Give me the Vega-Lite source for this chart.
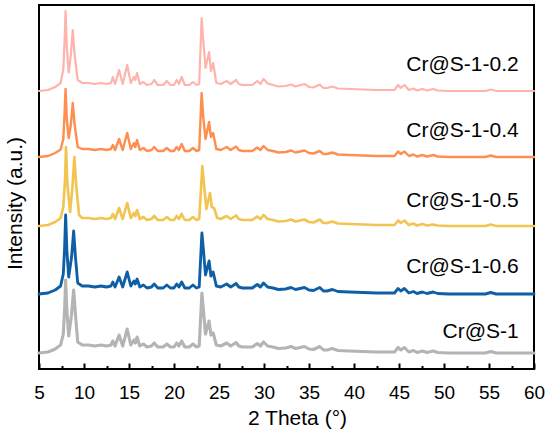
{
  "$schema": "https://vega.github.io/schema/vega-lite/v6.json",
  "width": 495,
  "height": 364,
  "autosize": "none",
  "padding": {"left": 39, "top": 5, "right": 16, "bottom": 64},
  "config": {
    "font": "Liberation Sans",
    "view": {"stroke": "#000", "strokeWidth": 2}
  },
  "datasets": {
    "xrd": [
      {"sample": "Cr@S-1", "theta": 5, "intensity": 16},
      {"sample": "Cr@S-1", "theta": 6, "intensity": 17},
      {"sample": "Cr@S-1", "theta": 6.8, "intensity": 20},
      {"sample": "Cr@S-1", "theta": 7.4, "intensity": 24},
      {"sample": "Cr@S-1", "theta": 7.7, "intensity": 35},
      {"sample": "Cr@S-1", "theta": 7.85, "intensity": 60},
      {"sample": "Cr@S-1", "theta": 7.96, "intensity": 89},
      {"sample": "Cr@S-1", "theta": 8.1, "intensity": 58},
      {"sample": "Cr@S-1", "theta": 8.3, "intensity": 33},
      {"sample": "Cr@S-1", "theta": 8.62, "intensity": 55},
      {"sample": "Cr@S-1", "theta": 8.85, "intensity": 79},
      {"sample": "Cr@S-1", "theta": 9.05, "intensity": 55},
      {"sample": "Cr@S-1", "theta": 9.3, "intensity": 27},
      {"sample": "Cr@S-1", "theta": 9.8, "intensity": 24},
      {"sample": "Cr@S-1", "theta": 10.5, "intensity": 24},
      {"sample": "Cr@S-1", "theta": 11.2, "intensity": 23},
      {"sample": "Cr@S-1", "theta": 11.9, "intensity": 24},
      {"sample": "Cr@S-1", "theta": 12.5, "intensity": 23},
      {"sample": "Cr@S-1", "theta": 13.0, "intensity": 24},
      {"sample": "Cr@S-1", "theta": 13.2, "intensity": 28},
      {"sample": "Cr@S-1", "theta": 13.45, "intensity": 23},
      {"sample": "Cr@S-1", "theta": 13.9, "intensity": 34},
      {"sample": "Cr@S-1", "theta": 14.3, "intensity": 23},
      {"sample": "Cr@S-1", "theta": 14.8, "intensity": 40},
      {"sample": "Cr@S-1", "theta": 15.2, "intensity": 24},
      {"sample": "Cr@S-1", "theta": 15.55, "intensity": 29},
      {"sample": "Cr@S-1", "theta": 15.7, "intensity": 26},
      {"sample": "Cr@S-1", "theta": 15.9, "intensity": 32},
      {"sample": "Cr@S-1", "theta": 16.2, "intensity": 23},
      {"sample": "Cr@S-1", "theta": 16.6, "intensity": 25},
      {"sample": "Cr@S-1", "theta": 17.0, "intensity": 22},
      {"sample": "Cr@S-1", "theta": 17.5, "intensity": 23},
      {"sample": "Cr@S-1", "theta": 17.8, "intensity": 26},
      {"sample": "Cr@S-1", "theta": 18.2, "intensity": 22},
      {"sample": "Cr@S-1", "theta": 18.8, "intensity": 22},
      {"sample": "Cr@S-1", "theta": 19.2, "intensity": 25},
      {"sample": "Cr@S-1", "theta": 19.6, "intensity": 22},
      {"sample": "Cr@S-1", "theta": 20.0, "intensity": 22},
      {"sample": "Cr@S-1", "theta": 20.3, "intensity": 26},
      {"sample": "Cr@S-1", "theta": 20.55, "intensity": 23},
      {"sample": "Cr@S-1", "theta": 20.85, "intensity": 28},
      {"sample": "Cr@S-1", "theta": 21.2, "intensity": 22},
      {"sample": "Cr@S-1", "theta": 21.7, "intensity": 22},
      {"sample": "Cr@S-1", "theta": 22.1, "intensity": 25},
      {"sample": "Cr@S-1", "theta": 22.5, "intensity": 22},
      {"sample": "Cr@S-1", "theta": 22.8, "intensity": 23},
      {"sample": "Cr@S-1", "theta": 23.1, "intensity": 76},
      {"sample": "Cr@S-1", "theta": 23.28, "intensity": 58},
      {"sample": "Cr@S-1", "theta": 23.5, "intensity": 35},
      {"sample": "Cr@S-1", "theta": 23.9, "intensity": 48},
      {"sample": "Cr@S-1", "theta": 24.1, "intensity": 34},
      {"sample": "Cr@S-1", "theta": 24.35, "intensity": 36},
      {"sample": "Cr@S-1", "theta": 24.7, "intensity": 24},
      {"sample": "Cr@S-1", "theta": 25.2, "intensity": 23},
      {"sample": "Cr@S-1", "theta": 25.85, "intensity": 26},
      {"sample": "Cr@S-1", "theta": 26.3, "intensity": 23},
      {"sample": "Cr@S-1", "theta": 26.9, "intensity": 26.5},
      {"sample": "Cr@S-1", "theta": 27.2, "intensity": 23},
      {"sample": "Cr@S-1", "theta": 27.6, "intensity": 22},
      {"sample": "Cr@S-1", "theta": 28.2, "intensity": 22},
      {"sample": "Cr@S-1", "theta": 28.7, "intensity": 22},
      {"sample": "Cr@S-1", "theta": 29.25, "intensity": 25.5},
      {"sample": "Cr@S-1", "theta": 29.6, "intensity": 23},
      {"sample": "Cr@S-1", "theta": 29.95, "intensity": 27},
      {"sample": "Cr@S-1", "theta": 30.4, "intensity": 23},
      {"sample": "Cr@S-1", "theta": 31.0, "intensity": 22},
      {"sample": "Cr@S-1", "theta": 31.6, "intensity": 20.5},
      {"sample": "Cr@S-1", "theta": 32.4, "intensity": 21},
      {"sample": "Cr@S-1", "theta": 33.0, "intensity": 22.5},
      {"sample": "Cr@S-1", "theta": 33.5, "intensity": 20.5},
      {"sample": "Cr@S-1", "theta": 34.5, "intensity": 22.5},
      {"sample": "Cr@S-1", "theta": 35.0, "intensity": 20},
      {"sample": "Cr@S-1", "theta": 35.5, "intensity": 19.5},
      {"sample": "Cr@S-1", "theta": 36.2, "intensity": 22.5},
      {"sample": "Cr@S-1", "theta": 36.6, "intensity": 19},
      {"sample": "Cr@S-1", "theta": 37.0, "intensity": 19},
      {"sample": "Cr@S-1", "theta": 37.6, "intensity": 20.5},
      {"sample": "Cr@S-1", "theta": 38.2, "intensity": 18.5},
      {"sample": "Cr@S-1", "theta": 39.5, "intensity": 18},
      {"sample": "Cr@S-1", "theta": 41, "intensity": 17.5},
      {"sample": "Cr@S-1", "theta": 42.5, "intensity": 17},
      {"sample": "Cr@S-1", "theta": 43.5, "intensity": 17},
      {"sample": "Cr@S-1", "theta": 44.5, "intensity": 17},
      {"sample": "Cr@S-1", "theta": 44.9, "intensity": 21.5},
      {"sample": "Cr@S-1", "theta": 45.2, "intensity": 19},
      {"sample": "Cr@S-1", "theta": 45.6, "intensity": 21.5},
      {"sample": "Cr@S-1", "theta": 46.1, "intensity": 17},
      {"sample": "Cr@S-1", "theta": 46.6, "intensity": 18.5},
      {"sample": "Cr@S-1", "theta": 47.0, "intensity": 16.5},
      {"sample": "Cr@S-1", "theta": 47.6, "intensity": 18},
      {"sample": "Cr@S-1", "theta": 48.1, "intensity": 16.5},
      {"sample": "Cr@S-1", "theta": 48.8, "intensity": 18},
      {"sample": "Cr@S-1", "theta": 49.3, "intensity": 16.5},
      {"sample": "Cr@S-1", "theta": 50.5, "intensity": 16},
      {"sample": "Cr@S-1", "theta": 52, "intensity": 16},
      {"sample": "Cr@S-1", "theta": 53.5, "intensity": 16},
      {"sample": "Cr@S-1", "theta": 54.6, "intensity": 16},
      {"sample": "Cr@S-1", "theta": 55.2, "intensity": 17.5},
      {"sample": "Cr@S-1", "theta": 55.8, "intensity": 16},
      {"sample": "Cr@S-1", "theta": 57, "intensity": 16},
      {"sample": "Cr@S-1", "theta": 58.5, "intensity": 16},
      {"sample": "Cr@S-1", "theta": 60, "intensity": 16},

      {"sample": "Cr@S-1-0.6", "theta": 5, "intensity": 75},
      {"sample": "Cr@S-1-0.6", "theta": 6, "intensity": 76},
      {"sample": "Cr@S-1-0.6", "theta": 6.8, "intensity": 79},
      {"sample": "Cr@S-1-0.6", "theta": 7.4, "intensity": 83},
      {"sample": "Cr@S-1-0.6", "theta": 7.7, "intensity": 95},
      {"sample": "Cr@S-1-0.6", "theta": 7.85, "intensity": 122},
      {"sample": "Cr@S-1-0.6", "theta": 7.96, "intensity": 154},
      {"sample": "Cr@S-1-0.6", "theta": 8.1, "intensity": 118},
      {"sample": "Cr@S-1-0.6", "theta": 8.3, "intensity": 92},
      {"sample": "Cr@S-1-0.6", "theta": 8.62, "intensity": 112},
      {"sample": "Cr@S-1-0.6", "theta": 8.85, "intensity": 138},
      {"sample": "Cr@S-1-0.6", "theta": 9.05, "intensity": 112},
      {"sample": "Cr@S-1-0.6", "theta": 9.3, "intensity": 86},
      {"sample": "Cr@S-1-0.6", "theta": 9.8, "intensity": 83},
      {"sample": "Cr@S-1-0.6", "theta": 10.5, "intensity": 83},
      {"sample": "Cr@S-1-0.6", "theta": 11.2, "intensity": 82},
      {"sample": "Cr@S-1-0.6", "theta": 11.9, "intensity": 83},
      {"sample": "Cr@S-1-0.6", "theta": 12.5, "intensity": 82},
      {"sample": "Cr@S-1-0.6", "theta": 13.0, "intensity": 83},
      {"sample": "Cr@S-1-0.6", "theta": 13.2, "intensity": 87},
      {"sample": "Cr@S-1-0.6", "theta": 13.45, "intensity": 82},
      {"sample": "Cr@S-1-0.6", "theta": 13.9, "intensity": 92},
      {"sample": "Cr@S-1-0.6", "theta": 14.3, "intensity": 82},
      {"sample": "Cr@S-1-0.6", "theta": 14.8, "intensity": 97},
      {"sample": "Cr@S-1-0.6", "theta": 15.2, "intensity": 83},
      {"sample": "Cr@S-1-0.6", "theta": 15.55, "intensity": 88},
      {"sample": "Cr@S-1-0.6", "theta": 15.7, "intensity": 85},
      {"sample": "Cr@S-1-0.6", "theta": 15.9, "intensity": 90},
      {"sample": "Cr@S-1-0.6", "theta": 16.2, "intensity": 82},
      {"sample": "Cr@S-1-0.6", "theta": 16.6, "intensity": 84},
      {"sample": "Cr@S-1-0.6", "theta": 17.0, "intensity": 81},
      {"sample": "Cr@S-1-0.6", "theta": 17.5, "intensity": 82},
      {"sample": "Cr@S-1-0.6", "theta": 17.8, "intensity": 85},
      {"sample": "Cr@S-1-0.6", "theta": 18.2, "intensity": 81},
      {"sample": "Cr@S-1-0.6", "theta": 18.8, "intensity": 81},
      {"sample": "Cr@S-1-0.6", "theta": 19.2, "intensity": 84},
      {"sample": "Cr@S-1-0.6", "theta": 19.6, "intensity": 81},
      {"sample": "Cr@S-1-0.6", "theta": 20.0, "intensity": 81},
      {"sample": "Cr@S-1-0.6", "theta": 20.3, "intensity": 85},
      {"sample": "Cr@S-1-0.6", "theta": 20.55, "intensity": 82},
      {"sample": "Cr@S-1-0.6", "theta": 20.85, "intensity": 87},
      {"sample": "Cr@S-1-0.6", "theta": 21.2, "intensity": 81},
      {"sample": "Cr@S-1-0.6", "theta": 21.7, "intensity": 81},
      {"sample": "Cr@S-1-0.6", "theta": 22.1, "intensity": 84},
      {"sample": "Cr@S-1-0.6", "theta": 22.5, "intensity": 81},
      {"sample": "Cr@S-1-0.6", "theta": 22.8, "intensity": 82},
      {"sample": "Cr@S-1-0.6", "theta": 23.1, "intensity": 136},
      {"sample": "Cr@S-1-0.6", "theta": 23.28, "intensity": 118},
      {"sample": "Cr@S-1-0.6", "theta": 23.5, "intensity": 94},
      {"sample": "Cr@S-1-0.6", "theta": 23.9, "intensity": 108},
      {"sample": "Cr@S-1-0.6", "theta": 24.1, "intensity": 93},
      {"sample": "Cr@S-1-0.6", "theta": 24.35, "intensity": 97},
      {"sample": "Cr@S-1-0.6", "theta": 24.7, "intensity": 83},
      {"sample": "Cr@S-1-0.6", "theta": 25.2, "intensity": 82},
      {"sample": "Cr@S-1-0.6", "theta": 25.85, "intensity": 85},
      {"sample": "Cr@S-1-0.6", "theta": 26.3, "intensity": 82},
      {"sample": "Cr@S-1-0.6", "theta": 26.9, "intensity": 85.5},
      {"sample": "Cr@S-1-0.6", "theta": 27.2, "intensity": 82},
      {"sample": "Cr@S-1-0.6", "theta": 27.6, "intensity": 81},
      {"sample": "Cr@S-1-0.6", "theta": 28.2, "intensity": 81},
      {"sample": "Cr@S-1-0.6", "theta": 28.7, "intensity": 81},
      {"sample": "Cr@S-1-0.6", "theta": 29.25, "intensity": 84.5},
      {"sample": "Cr@S-1-0.6", "theta": 29.6, "intensity": 82},
      {"sample": "Cr@S-1-0.6", "theta": 29.95, "intensity": 86},
      {"sample": "Cr@S-1-0.6", "theta": 30.4, "intensity": 82},
      {"sample": "Cr@S-1-0.6", "theta": 31.0, "intensity": 81},
      {"sample": "Cr@S-1-0.6", "theta": 31.6, "intensity": 79.5},
      {"sample": "Cr@S-1-0.6", "theta": 32.4, "intensity": 80},
      {"sample": "Cr@S-1-0.6", "theta": 33.0, "intensity": 81.5},
      {"sample": "Cr@S-1-0.6", "theta": 33.5, "intensity": 79.5},
      {"sample": "Cr@S-1-0.6", "theta": 34.5, "intensity": 81.5},
      {"sample": "Cr@S-1-0.6", "theta": 35.0, "intensity": 79},
      {"sample": "Cr@S-1-0.6", "theta": 35.5, "intensity": 78.5},
      {"sample": "Cr@S-1-0.6", "theta": 36.2, "intensity": 81.5},
      {"sample": "Cr@S-1-0.6", "theta": 36.6, "intensity": 78},
      {"sample": "Cr@S-1-0.6", "theta": 37.0, "intensity": 78},
      {"sample": "Cr@S-1-0.6", "theta": 37.6, "intensity": 79.5},
      {"sample": "Cr@S-1-0.6", "theta": 38.2, "intensity": 77.5},
      {"sample": "Cr@S-1-0.6", "theta": 39.5, "intensity": 77},
      {"sample": "Cr@S-1-0.6", "theta": 41, "intensity": 76.5},
      {"sample": "Cr@S-1-0.6", "theta": 42.5, "intensity": 76},
      {"sample": "Cr@S-1-0.6", "theta": 43.5, "intensity": 76},
      {"sample": "Cr@S-1-0.6", "theta": 44.5, "intensity": 76},
      {"sample": "Cr@S-1-0.6", "theta": 44.9, "intensity": 80.5},
      {"sample": "Cr@S-1-0.6", "theta": 45.2, "intensity": 78},
      {"sample": "Cr@S-1-0.6", "theta": 45.6, "intensity": 80.5},
      {"sample": "Cr@S-1-0.6", "theta": 46.1, "intensity": 76},
      {"sample": "Cr@S-1-0.6", "theta": 46.6, "intensity": 77.5},
      {"sample": "Cr@S-1-0.6", "theta": 47.0, "intensity": 75.5},
      {"sample": "Cr@S-1-0.6", "theta": 47.6, "intensity": 77},
      {"sample": "Cr@S-1-0.6", "theta": 48.1, "intensity": 75.5},
      {"sample": "Cr@S-1-0.6", "theta": 48.8, "intensity": 77},
      {"sample": "Cr@S-1-0.6", "theta": 49.3, "intensity": 75.5},
      {"sample": "Cr@S-1-0.6", "theta": 50.5, "intensity": 75},
      {"sample": "Cr@S-1-0.6", "theta": 52, "intensity": 75},
      {"sample": "Cr@S-1-0.6", "theta": 53.5, "intensity": 75},
      {"sample": "Cr@S-1-0.6", "theta": 54.6, "intensity": 75},
      {"sample": "Cr@S-1-0.6", "theta": 55.2, "intensity": 76.5},
      {"sample": "Cr@S-1-0.6", "theta": 55.8, "intensity": 75},
      {"sample": "Cr@S-1-0.6", "theta": 57, "intensity": 75},
      {"sample": "Cr@S-1-0.6", "theta": 58.5, "intensity": 75},
      {"sample": "Cr@S-1-0.6", "theta": 60, "intensity": 75},

      {"sample": "Cr@S-1-0.5", "theta": 5, "intensity": 143},
      {"sample": "Cr@S-1-0.5", "theta": 6, "intensity": 144},
      {"sample": "Cr@S-1-0.5", "theta": 6.8, "intensity": 147},
      {"sample": "Cr@S-1-0.5", "theta": 7.4, "intensity": 151},
      {"sample": "Cr@S-1-0.5", "theta": 7.7, "intensity": 162},
      {"sample": "Cr@S-1-0.5", "theta": 7.9, "intensity": 190},
      {"sample": "Cr@S-1-0.5", "theta": 8.0, "intensity": 222},
      {"sample": "Cr@S-1-0.5", "theta": 8.15, "intensity": 185},
      {"sample": "Cr@S-1-0.5", "theta": 8.45, "intensity": 157},
      {"sample": "Cr@S-1-0.5", "theta": 8.7, "intensity": 180},
      {"sample": "Cr@S-1-0.5", "theta": 8.93, "intensity": 212},
      {"sample": "Cr@S-1-0.5", "theta": 9.12, "intensity": 185},
      {"sample": "Cr@S-1-0.5", "theta": 9.45, "intensity": 154},
      {"sample": "Cr@S-1-0.5", "theta": 9.8, "intensity": 151},
      {"sample": "Cr@S-1-0.5", "theta": 10.5, "intensity": 151},
      {"sample": "Cr@S-1-0.5", "theta": 11.2, "intensity": 150},
      {"sample": "Cr@S-1-0.5", "theta": 11.9, "intensity": 151},
      {"sample": "Cr@S-1-0.5", "theta": 12.5, "intensity": 150},
      {"sample": "Cr@S-1-0.5", "theta": 13.0, "intensity": 151},
      {"sample": "Cr@S-1-0.5", "theta": 13.2, "intensity": 155},
      {"sample": "Cr@S-1-0.5", "theta": 13.45, "intensity": 150},
      {"sample": "Cr@S-1-0.5", "theta": 13.9, "intensity": 161},
      {"sample": "Cr@S-1-0.5", "theta": 14.3, "intensity": 150},
      {"sample": "Cr@S-1-0.5", "theta": 14.8, "intensity": 166},
      {"sample": "Cr@S-1-0.5", "theta": 15.2, "intensity": 151},
      {"sample": "Cr@S-1-0.5", "theta": 15.55, "intensity": 156},
      {"sample": "Cr@S-1-0.5", "theta": 15.7, "intensity": 153},
      {"sample": "Cr@S-1-0.5", "theta": 15.9, "intensity": 159},
      {"sample": "Cr@S-1-0.5", "theta": 16.2, "intensity": 150},
      {"sample": "Cr@S-1-0.5", "theta": 16.6, "intensity": 152},
      {"sample": "Cr@S-1-0.5", "theta": 17.0, "intensity": 149},
      {"sample": "Cr@S-1-0.5", "theta": 17.5, "intensity": 150},
      {"sample": "Cr@S-1-0.5", "theta": 17.8, "intensity": 153},
      {"sample": "Cr@S-1-0.5", "theta": 18.2, "intensity": 149},
      {"sample": "Cr@S-1-0.5", "theta": 18.8, "intensity": 149},
      {"sample": "Cr@S-1-0.5", "theta": 19.2, "intensity": 152},
      {"sample": "Cr@S-1-0.5", "theta": 19.6, "intensity": 149},
      {"sample": "Cr@S-1-0.5", "theta": 20.0, "intensity": 149},
      {"sample": "Cr@S-1-0.5", "theta": 20.3, "intensity": 153},
      {"sample": "Cr@S-1-0.5", "theta": 20.55, "intensity": 150},
      {"sample": "Cr@S-1-0.5", "theta": 20.85, "intensity": 155},
      {"sample": "Cr@S-1-0.5", "theta": 21.2, "intensity": 149},
      {"sample": "Cr@S-1-0.5", "theta": 21.7, "intensity": 149},
      {"sample": "Cr@S-1-0.5", "theta": 22.1, "intensity": 152},
      {"sample": "Cr@S-1-0.5", "theta": 22.5, "intensity": 149},
      {"sample": "Cr@S-1-0.5", "theta": 22.8, "intensity": 150},
      {"sample": "Cr@S-1-0.5", "theta": 23.15, "intensity": 203},
      {"sample": "Cr@S-1-0.5", "theta": 23.33, "intensity": 185},
      {"sample": "Cr@S-1-0.5", "theta": 23.6, "intensity": 160},
      {"sample": "Cr@S-1-0.5", "theta": 24.0, "intensity": 176},
      {"sample": "Cr@S-1-0.5", "theta": 24.2, "intensity": 162},
      {"sample": "Cr@S-1-0.5", "theta": 24.45, "intensity": 161},
      {"sample": "Cr@S-1-0.5", "theta": 24.8, "intensity": 151},
      {"sample": "Cr@S-1-0.5", "theta": 25.2, "intensity": 150},
      {"sample": "Cr@S-1-0.5", "theta": 25.85, "intensity": 153},
      {"sample": "Cr@S-1-0.5", "theta": 26.3, "intensity": 150},
      {"sample": "Cr@S-1-0.5", "theta": 26.9, "intensity": 153.5},
      {"sample": "Cr@S-1-0.5", "theta": 27.2, "intensity": 150},
      {"sample": "Cr@S-1-0.5", "theta": 27.6, "intensity": 149},
      {"sample": "Cr@S-1-0.5", "theta": 28.2, "intensity": 149},
      {"sample": "Cr@S-1-0.5", "theta": 28.7, "intensity": 149},
      {"sample": "Cr@S-1-0.5", "theta": 29.25, "intensity": 152.5},
      {"sample": "Cr@S-1-0.5", "theta": 29.6, "intensity": 150},
      {"sample": "Cr@S-1-0.5", "theta": 29.95, "intensity": 154},
      {"sample": "Cr@S-1-0.5", "theta": 30.4, "intensity": 150},
      {"sample": "Cr@S-1-0.5", "theta": 31.0, "intensity": 149},
      {"sample": "Cr@S-1-0.5", "theta": 31.6, "intensity": 147.5},
      {"sample": "Cr@S-1-0.5", "theta": 32.4, "intensity": 148},
      {"sample": "Cr@S-1-0.5", "theta": 33.0, "intensity": 149.5},
      {"sample": "Cr@S-1-0.5", "theta": 33.5, "intensity": 147.5},
      {"sample": "Cr@S-1-0.5", "theta": 34.5, "intensity": 149.5},
      {"sample": "Cr@S-1-0.5", "theta": 35.0, "intensity": 147},
      {"sample": "Cr@S-1-0.5", "theta": 35.5, "intensity": 146.5},
      {"sample": "Cr@S-1-0.5", "theta": 36.2, "intensity": 149.5},
      {"sample": "Cr@S-1-0.5", "theta": 36.6, "intensity": 146},
      {"sample": "Cr@S-1-0.5", "theta": 37.0, "intensity": 146},
      {"sample": "Cr@S-1-0.5", "theta": 37.6, "intensity": 147.5},
      {"sample": "Cr@S-1-0.5", "theta": 38.2, "intensity": 145.5},
      {"sample": "Cr@S-1-0.5", "theta": 39.5, "intensity": 145},
      {"sample": "Cr@S-1-0.5", "theta": 41, "intensity": 144.5},
      {"sample": "Cr@S-1-0.5", "theta": 42.5, "intensity": 144},
      {"sample": "Cr@S-1-0.5", "theta": 43.5, "intensity": 144},
      {"sample": "Cr@S-1-0.5", "theta": 44.5, "intensity": 144},
      {"sample": "Cr@S-1-0.5", "theta": 44.9, "intensity": 148.5},
      {"sample": "Cr@S-1-0.5", "theta": 45.2, "intensity": 146},
      {"sample": "Cr@S-1-0.5", "theta": 45.6, "intensity": 148.5},
      {"sample": "Cr@S-1-0.5", "theta": 46.1, "intensity": 144},
      {"sample": "Cr@S-1-0.5", "theta": 46.6, "intensity": 145.5},
      {"sample": "Cr@S-1-0.5", "theta": 47.0, "intensity": 143.5},
      {"sample": "Cr@S-1-0.5", "theta": 47.6, "intensity": 145},
      {"sample": "Cr@S-1-0.5", "theta": 48.1, "intensity": 143.5},
      {"sample": "Cr@S-1-0.5", "theta": 48.8, "intensity": 144.5},
      {"sample": "Cr@S-1-0.5", "theta": 49.3, "intensity": 143.5},
      {"sample": "Cr@S-1-0.5", "theta": 50.5, "intensity": 143},
      {"sample": "Cr@S-1-0.5", "theta": 52, "intensity": 143},
      {"sample": "Cr@S-1-0.5", "theta": 53.5, "intensity": 143},
      {"sample": "Cr@S-1-0.5", "theta": 54.6, "intensity": 143},
      {"sample": "Cr@S-1-0.5", "theta": 55.2, "intensity": 144.5},
      {"sample": "Cr@S-1-0.5", "theta": 55.8, "intensity": 143},
      {"sample": "Cr@S-1-0.5", "theta": 57, "intensity": 143},
      {"sample": "Cr@S-1-0.5", "theta": 58.5, "intensity": 143},
      {"sample": "Cr@S-1-0.5", "theta": 60, "intensity": 143},

      {"sample": "Cr@S-1-0.4", "theta": 5, "intensity": 212},
      {"sample": "Cr@S-1-0.4", "theta": 6, "intensity": 213},
      {"sample": "Cr@S-1-0.4", "theta": 6.8, "intensity": 216},
      {"sample": "Cr@S-1-0.4", "theta": 7.4, "intensity": 219.5},
      {"sample": "Cr@S-1-0.4", "theta": 7.7, "intensity": 230},
      {"sample": "Cr@S-1-0.4", "theta": 7.85, "intensity": 257},
      {"sample": "Cr@S-1-0.4", "theta": 7.95, "intensity": 280},
      {"sample": "Cr@S-1-0.4", "theta": 8.1, "intensity": 248},
      {"sample": "Cr@S-1-0.4", "theta": 8.3, "intensity": 231},
      {"sample": "Cr@S-1-0.4", "theta": 8.55, "intensity": 245},
      {"sample": "Cr@S-1-0.4", "theta": 8.75, "intensity": 266},
      {"sample": "Cr@S-1-0.4", "theta": 8.95, "intensity": 245},
      {"sample": "Cr@S-1-0.4", "theta": 9.3, "intensity": 222},
      {"sample": "Cr@S-1-0.4", "theta": 9.8, "intensity": 220},
      {"sample": "Cr@S-1-0.4", "theta": 10.5, "intensity": 220},
      {"sample": "Cr@S-1-0.4", "theta": 11.2, "intensity": 219},
      {"sample": "Cr@S-1-0.4", "theta": 11.9, "intensity": 220},
      {"sample": "Cr@S-1-0.4", "theta": 12.5, "intensity": 219},
      {"sample": "Cr@S-1-0.4", "theta": 13.0, "intensity": 220},
      {"sample": "Cr@S-1-0.4", "theta": 13.2, "intensity": 224},
      {"sample": "Cr@S-1-0.4", "theta": 13.45, "intensity": 219},
      {"sample": "Cr@S-1-0.4", "theta": 13.9, "intensity": 230},
      {"sample": "Cr@S-1-0.4", "theta": 14.3, "intensity": 219},
      {"sample": "Cr@S-1-0.4", "theta": 14.8, "intensity": 236},
      {"sample": "Cr@S-1-0.4", "theta": 15.2, "intensity": 220},
      {"sample": "Cr@S-1-0.4", "theta": 15.55, "intensity": 226},
      {"sample": "Cr@S-1-0.4", "theta": 15.7, "intensity": 222},
      {"sample": "Cr@S-1-0.4", "theta": 15.9, "intensity": 229},
      {"sample": "Cr@S-1-0.4", "theta": 16.2, "intensity": 219},
      {"sample": "Cr@S-1-0.4", "theta": 16.6, "intensity": 221},
      {"sample": "Cr@S-1-0.4", "theta": 17.0, "intensity": 218},
      {"sample": "Cr@S-1-0.4", "theta": 17.5, "intensity": 219},
      {"sample": "Cr@S-1-0.4", "theta": 17.8, "intensity": 222},
      {"sample": "Cr@S-1-0.4", "theta": 18.2, "intensity": 218},
      {"sample": "Cr@S-1-0.4", "theta": 18.8, "intensity": 218},
      {"sample": "Cr@S-1-0.4", "theta": 19.2, "intensity": 221},
      {"sample": "Cr@S-1-0.4", "theta": 19.6, "intensity": 218},
      {"sample": "Cr@S-1-0.4", "theta": 20.0, "intensity": 218},
      {"sample": "Cr@S-1-0.4", "theta": 20.3, "intensity": 222},
      {"sample": "Cr@S-1-0.4", "theta": 20.55, "intensity": 219},
      {"sample": "Cr@S-1-0.4", "theta": 20.85, "intensity": 225},
      {"sample": "Cr@S-1-0.4", "theta": 21.2, "intensity": 218},
      {"sample": "Cr@S-1-0.4", "theta": 21.7, "intensity": 218},
      {"sample": "Cr@S-1-0.4", "theta": 22.1, "intensity": 221},
      {"sample": "Cr@S-1-0.4", "theta": 22.5, "intensity": 218},
      {"sample": "Cr@S-1-0.4", "theta": 22.8, "intensity": 219},
      {"sample": "Cr@S-1-0.4", "theta": 23.07, "intensity": 276},
      {"sample": "Cr@S-1-0.4", "theta": 23.25, "intensity": 252},
      {"sample": "Cr@S-1-0.4", "theta": 23.5, "intensity": 230},
      {"sample": "Cr@S-1-0.4", "theta": 23.9, "intensity": 247},
      {"sample": "Cr@S-1-0.4", "theta": 24.1, "intensity": 232},
      {"sample": "Cr@S-1-0.4", "theta": 24.35, "intensity": 236},
      {"sample": "Cr@S-1-0.4", "theta": 24.7, "intensity": 220},
      {"sample": "Cr@S-1-0.4", "theta": 25.2, "intensity": 219},
      {"sample": "Cr@S-1-0.4", "theta": 25.85, "intensity": 222},
      {"sample": "Cr@S-1-0.4", "theta": 26.3, "intensity": 219},
      {"sample": "Cr@S-1-0.4", "theta": 26.9, "intensity": 222.5},
      {"sample": "Cr@S-1-0.4", "theta": 27.2, "intensity": 219},
      {"sample": "Cr@S-1-0.4", "theta": 27.6, "intensity": 218},
      {"sample": "Cr@S-1-0.4", "theta": 28.2, "intensity": 218},
      {"sample": "Cr@S-1-0.4", "theta": 28.7, "intensity": 218},
      {"sample": "Cr@S-1-0.4", "theta": 29.25, "intensity": 221.5},
      {"sample": "Cr@S-1-0.4", "theta": 29.6, "intensity": 219},
      {"sample": "Cr@S-1-0.4", "theta": 29.95, "intensity": 223},
      {"sample": "Cr@S-1-0.4", "theta": 30.4, "intensity": 219},
      {"sample": "Cr@S-1-0.4", "theta": 31.0, "intensity": 218},
      {"sample": "Cr@S-1-0.4", "theta": 31.6, "intensity": 216.5},
      {"sample": "Cr@S-1-0.4", "theta": 32.4, "intensity": 217},
      {"sample": "Cr@S-1-0.4", "theta": 33.0, "intensity": 218.5},
      {"sample": "Cr@S-1-0.4", "theta": 33.5, "intensity": 216.5},
      {"sample": "Cr@S-1-0.4", "theta": 34.5, "intensity": 218.5},
      {"sample": "Cr@S-1-0.4", "theta": 35.0, "intensity": 216},
      {"sample": "Cr@S-1-0.4", "theta": 35.5, "intensity": 215.5},
      {"sample": "Cr@S-1-0.4", "theta": 36.2, "intensity": 218},
      {"sample": "Cr@S-1-0.4", "theta": 36.6, "intensity": 215},
      {"sample": "Cr@S-1-0.4", "theta": 37.0, "intensity": 215},
      {"sample": "Cr@S-1-0.4", "theta": 37.6, "intensity": 216.5},
      {"sample": "Cr@S-1-0.4", "theta": 38.2, "intensity": 214.5},
      {"sample": "Cr@S-1-0.4", "theta": 39.5, "intensity": 214},
      {"sample": "Cr@S-1-0.4", "theta": 41, "intensity": 213.5},
      {"sample": "Cr@S-1-0.4", "theta": 42.5, "intensity": 213},
      {"sample": "Cr@S-1-0.4", "theta": 43.5, "intensity": 213},
      {"sample": "Cr@S-1-0.4", "theta": 44.5, "intensity": 213},
      {"sample": "Cr@S-1-0.4", "theta": 44.9, "intensity": 217.5},
      {"sample": "Cr@S-1-0.4", "theta": 45.2, "intensity": 215},
      {"sample": "Cr@S-1-0.4", "theta": 45.6, "intensity": 217.5},
      {"sample": "Cr@S-1-0.4", "theta": 46.1, "intensity": 213},
      {"sample": "Cr@S-1-0.4", "theta": 46.6, "intensity": 214.5},
      {"sample": "Cr@S-1-0.4", "theta": 47.0, "intensity": 212.5},
      {"sample": "Cr@S-1-0.4", "theta": 47.6, "intensity": 214},
      {"sample": "Cr@S-1-0.4", "theta": 48.1, "intensity": 212.5},
      {"sample": "Cr@S-1-0.4", "theta": 48.8, "intensity": 214},
      {"sample": "Cr@S-1-0.4", "theta": 49.3, "intensity": 212.5},
      {"sample": "Cr@S-1-0.4", "theta": 50.5, "intensity": 212},
      {"sample": "Cr@S-1-0.4", "theta": 52, "intensity": 212},
      {"sample": "Cr@S-1-0.4", "theta": 53.5, "intensity": 212},
      {"sample": "Cr@S-1-0.4", "theta": 54.6, "intensity": 212},
      {"sample": "Cr@S-1-0.4", "theta": 55.2, "intensity": 213.5},
      {"sample": "Cr@S-1-0.4", "theta": 55.8, "intensity": 212},
      {"sample": "Cr@S-1-0.4", "theta": 57, "intensity": 212},
      {"sample": "Cr@S-1-0.4", "theta": 58.5, "intensity": 212},
      {"sample": "Cr@S-1-0.4", "theta": 60, "intensity": 212},

      {"sample": "Cr@S-1-0.2", "theta": 5, "intensity": 278},
      {"sample": "Cr@S-1-0.2", "theta": 6, "intensity": 279},
      {"sample": "Cr@S-1-0.2", "theta": 6.8, "intensity": 282},
      {"sample": "Cr@S-1-0.2", "theta": 7.4, "intensity": 286},
      {"sample": "Cr@S-1-0.2", "theta": 7.7, "intensity": 299.5},
      {"sample": "Cr@S-1-0.2", "theta": 7.85, "intensity": 330},
      {"sample": "Cr@S-1-0.2", "theta": 7.95, "intensity": 358},
      {"sample": "Cr@S-1-0.2", "theta": 8.1, "intensity": 320},
      {"sample": "Cr@S-1-0.2", "theta": 8.3, "intensity": 296.5},
      {"sample": "Cr@S-1-0.2", "theta": 8.55, "intensity": 315},
      {"sample": "Cr@S-1-0.2", "theta": 8.75, "intensity": 339},
      {"sample": "Cr@S-1-0.2", "theta": 8.95, "intensity": 315},
      {"sample": "Cr@S-1-0.2", "theta": 9.3, "intensity": 289},
      {"sample": "Cr@S-1-0.2", "theta": 9.8, "intensity": 286},
      {"sample": "Cr@S-1-0.2", "theta": 10.5, "intensity": 286},
      {"sample": "Cr@S-1-0.2", "theta": 11.2, "intensity": 285},
      {"sample": "Cr@S-1-0.2", "theta": 11.9, "intensity": 286},
      {"sample": "Cr@S-1-0.2", "theta": 12.5, "intensity": 285},
      {"sample": "Cr@S-1-0.2", "theta": 13.0, "intensity": 286},
      {"sample": "Cr@S-1-0.2", "theta": 13.2, "intensity": 292},
      {"sample": "Cr@S-1-0.2", "theta": 13.45, "intensity": 285},
      {"sample": "Cr@S-1-0.2", "theta": 13.9, "intensity": 299},
      {"sample": "Cr@S-1-0.2", "theta": 14.3, "intensity": 285},
      {"sample": "Cr@S-1-0.2", "theta": 14.8, "intensity": 304},
      {"sample": "Cr@S-1-0.2", "theta": 15.2, "intensity": 286},
      {"sample": "Cr@S-1-0.2", "theta": 15.55, "intensity": 292},
      {"sample": "Cr@S-1-0.2", "theta": 15.7, "intensity": 289},
      {"sample": "Cr@S-1-0.2", "theta": 15.9, "intensity": 296},
      {"sample": "Cr@S-1-0.2", "theta": 16.2, "intensity": 285},
      {"sample": "Cr@S-1-0.2", "theta": 16.6, "intensity": 287},
      {"sample": "Cr@S-1-0.2", "theta": 17.0, "intensity": 284},
      {"sample": "Cr@S-1-0.2", "theta": 17.5, "intensity": 285},
      {"sample": "Cr@S-1-0.2", "theta": 17.8, "intensity": 289},
      {"sample": "Cr@S-1-0.2", "theta": 18.2, "intensity": 284},
      {"sample": "Cr@S-1-0.2", "theta": 18.8, "intensity": 284},
      {"sample": "Cr@S-1-0.2", "theta": 19.2, "intensity": 288},
      {"sample": "Cr@S-1-0.2", "theta": 19.6, "intensity": 284},
      {"sample": "Cr@S-1-0.2", "theta": 20.0, "intensity": 284},
      {"sample": "Cr@S-1-0.2", "theta": 20.3, "intensity": 289},
      {"sample": "Cr@S-1-0.2", "theta": 20.55, "intensity": 285},
      {"sample": "Cr@S-1-0.2", "theta": 20.85, "intensity": 292},
      {"sample": "Cr@S-1-0.2", "theta": 21.2, "intensity": 284},
      {"sample": "Cr@S-1-0.2", "theta": 21.7, "intensity": 284},
      {"sample": "Cr@S-1-0.2", "theta": 22.1, "intensity": 287},
      {"sample": "Cr@S-1-0.2", "theta": 22.5, "intensity": 284},
      {"sample": "Cr@S-1-0.2", "theta": 22.8, "intensity": 285},
      {"sample": "Cr@S-1-0.2", "theta": 23.07, "intensity": 351},
      {"sample": "Cr@S-1-0.2", "theta": 23.25, "intensity": 329},
      {"sample": "Cr@S-1-0.2", "theta": 23.5, "intensity": 301},
      {"sample": "Cr@S-1-0.2", "theta": 23.9, "intensity": 317},
      {"sample": "Cr@S-1-0.2", "theta": 24.1, "intensity": 298},
      {"sample": "Cr@S-1-0.2", "theta": 24.35, "intensity": 306},
      {"sample": "Cr@S-1-0.2", "theta": 24.7, "intensity": 286},
      {"sample": "Cr@S-1-0.2", "theta": 25.2, "intensity": 285},
      {"sample": "Cr@S-1-0.2", "theta": 25.85, "intensity": 288},
      {"sample": "Cr@S-1-0.2", "theta": 26.3, "intensity": 285},
      {"sample": "Cr@S-1-0.2", "theta": 26.9, "intensity": 289},
      {"sample": "Cr@S-1-0.2", "theta": 27.2, "intensity": 285},
      {"sample": "Cr@S-1-0.2", "theta": 27.6, "intensity": 284},
      {"sample": "Cr@S-1-0.2", "theta": 28.2, "intensity": 284},
      {"sample": "Cr@S-1-0.2", "theta": 28.7, "intensity": 284},
      {"sample": "Cr@S-1-0.2", "theta": 29.25, "intensity": 288},
      {"sample": "Cr@S-1-0.2", "theta": 29.6, "intensity": 285},
      {"sample": "Cr@S-1-0.2", "theta": 29.95, "intensity": 290},
      {"sample": "Cr@S-1-0.2", "theta": 30.4, "intensity": 285.5},
      {"sample": "Cr@S-1-0.2", "theta": 31.0, "intensity": 284},
      {"sample": "Cr@S-1-0.2", "theta": 31.6, "intensity": 282.5},
      {"sample": "Cr@S-1-0.2", "theta": 32.4, "intensity": 283},
      {"sample": "Cr@S-1-0.2", "theta": 33.0, "intensity": 284.5},
      {"sample": "Cr@S-1-0.2", "theta": 33.5, "intensity": 282.5},
      {"sample": "Cr@S-1-0.2", "theta": 34.5, "intensity": 285},
      {"sample": "Cr@S-1-0.2", "theta": 35.0, "intensity": 282},
      {"sample": "Cr@S-1-0.2", "theta": 35.5, "intensity": 281.5},
      {"sample": "Cr@S-1-0.2", "theta": 36.2, "intensity": 284.5},
      {"sample": "Cr@S-1-0.2", "theta": 36.6, "intensity": 281},
      {"sample": "Cr@S-1-0.2", "theta": 37.0, "intensity": 281},
      {"sample": "Cr@S-1-0.2", "theta": 37.6, "intensity": 282.5},
      {"sample": "Cr@S-1-0.2", "theta": 38.2, "intensity": 280.5},
      {"sample": "Cr@S-1-0.2", "theta": 39.5, "intensity": 280},
      {"sample": "Cr@S-1-0.2", "theta": 41, "intensity": 279.5},
      {"sample": "Cr@S-1-0.2", "theta": 42.5, "intensity": 279},
      {"sample": "Cr@S-1-0.2", "theta": 43.5, "intensity": 279},
      {"sample": "Cr@S-1-0.2", "theta": 44.5, "intensity": 279},
      {"sample": "Cr@S-1-0.2", "theta": 44.9, "intensity": 284},
      {"sample": "Cr@S-1-0.2", "theta": 45.2, "intensity": 281},
      {"sample": "Cr@S-1-0.2", "theta": 45.6, "intensity": 284},
      {"sample": "Cr@S-1-0.2", "theta": 46.1, "intensity": 279},
      {"sample": "Cr@S-1-0.2", "theta": 46.6, "intensity": 280.5},
      {"sample": "Cr@S-1-0.2", "theta": 47.0, "intensity": 278.5},
      {"sample": "Cr@S-1-0.2", "theta": 47.6, "intensity": 280},
      {"sample": "Cr@S-1-0.2", "theta": 48.1, "intensity": 278.5},
      {"sample": "Cr@S-1-0.2", "theta": 48.8, "intensity": 280},
      {"sample": "Cr@S-1-0.2", "theta": 49.3, "intensity": 278.5},
      {"sample": "Cr@S-1-0.2", "theta": 50.5, "intensity": 278},
      {"sample": "Cr@S-1-0.2", "theta": 52, "intensity": 278},
      {"sample": "Cr@S-1-0.2", "theta": 53.5, "intensity": 278},
      {"sample": "Cr@S-1-0.2", "theta": 54.6, "intensity": 278},
      {"sample": "Cr@S-1-0.2", "theta": 55.2, "intensity": 279.5},
      {"sample": "Cr@S-1-0.2", "theta": 55.8, "intensity": 278},
      {"sample": "Cr@S-1-0.2", "theta": 57, "intensity": 278},
      {"sample": "Cr@S-1-0.2", "theta": 58.5, "intensity": 278},
      {"sample": "Cr@S-1-0.2", "theta": 60, "intensity": 278}
    ],
    "labels": [
      {"sample": "Cr@S-1-0.2", "theta": 58.3, "intensity": 298},
      {"sample": "Cr@S-1-0.4", "theta": 58.3, "intensity": 232},
      {"sample": "Cr@S-1-0.5", "theta": 58.3, "intensity": 162},
      {"sample": "Cr@S-1-0.6", "theta": 58.3, "intensity": 96},
      {"sample": "Cr@S-1", "theta": 58.3, "intensity": 31}
    ]
  },
  "layer": [
    {
      "data": {"name": "xrd"},
      "mark": {"type": "line", "strokeJoin": "round", "strokeCap": "round"},
      "encoding": {
        "x": {
          "field": "theta",
          "type": "quantitative",
          "scale": {"domain": [5, 60], "nice": false, "zero": false},
          "axis": {
            "values": [5, 10, 15, 20, 25, 30, 35, 40, 45, 50, 55, 60],
            "grid": false,
            "domain": false,
            "tickSize": -6,
            "tickWidth": 2,
            "tickColor": "#000",
            "labelFontSize": 19,
            "labelColor": "#000",
            "labelBaseline": "alphabetic",
            "labelPadding": 35,
            "labelFlush": false,
            "labelOverlap": false,
            "title": "2 Theta (°)",
            "titleFontSize": 21,
            "titleFontWeight": "normal",
            "titleColor": "#000",
            "titleBaseline": "alphabetic",
            "titleX": 258,
            "titleY": 55
          }
        },
        "y": {
          "field": "intensity",
          "type": "quantitative",
          "scale": {"domain": [0, 364], "nice": false, "zero": false},
          "axis": {
            "labels": false,
            "ticks": false,
            "domain": false,
            "grid": false,
            "title": "Intensity (a.u.)",
            "titleFontSize": 21,
            "titleFontWeight": "normal",
            "titleColor": "#000",
            "titleBaseline": "alphabetic",
            "titleX": -18,
            "titleY": 198
          }
        },
        "color": {
          "field": "sample",
          "type": "nominal",
          "scale": {
            "domain": ["Cr@S-1", "Cr@S-1-0.6", "Cr@S-1-0.5", "Cr@S-1-0.4", "Cr@S-1-0.2"],
            "range": ["#B4B4B4", "#0F5FA6", "#F2C452", "#FF8F50", "#FFB3AD"]
          },
          "legend": null
        },
        "strokeWidth": {
          "field": "sample",
          "type": "nominal",
          "scale": {
            "domain": ["Cr@S-1", "Cr@S-1-0.6", "Cr@S-1-0.5", "Cr@S-1-0.4", "Cr@S-1-0.2"],
            "range": [3.1, 2.2, 2.2, 2.2, 2.2]
          },
          "legend": null
        }
      }
    },
    {
      "data": {"name": "labels"},
      "mark": {"type": "text", "align": "right", "baseline": "alphabetic", "fontSize": 21, "color": "#000"},
      "encoding": {
        "x": {
          "field": "theta",
          "type": "quantitative",
          "scale": {"domain": [5, 60], "nice": false, "zero": false},
          "axis": {
            "orient": "bottom",
            "values": [7.5, 12.5, 17.5, 22.5, 27.5, 32.5, 37.5, 42.5, 47.5, 52.5, 57.5],
            "grid": false,
            "domain": false,
            "labels": false,
            "tickSize": -3.5,
            "tickWidth": 2,
            "tickColor": "#000",
            "title": null
          }
        },
        "y": {
          "field": "intensity",
          "type": "quantitative",
          "scale": {"domain": [0, 364], "nice": false, "zero": false},
          "axis": {
            "labels": false,
            "ticks": false,
            "domain": false,
            "grid": false,
            "title": "Intensity (a.u.)",
            "titleFontSize": 21,
            "titleFontWeight": "normal",
            "titleColor": "#000",
            "titleBaseline": "alphabetic",
            "titleX": -18,
            "titleY": 198
          }
        },
        "text": {"field": "sample", "type": "nominal"}
      }
    }
  ],
  "resolve": {"axis": {"x": "independent"}}
}
